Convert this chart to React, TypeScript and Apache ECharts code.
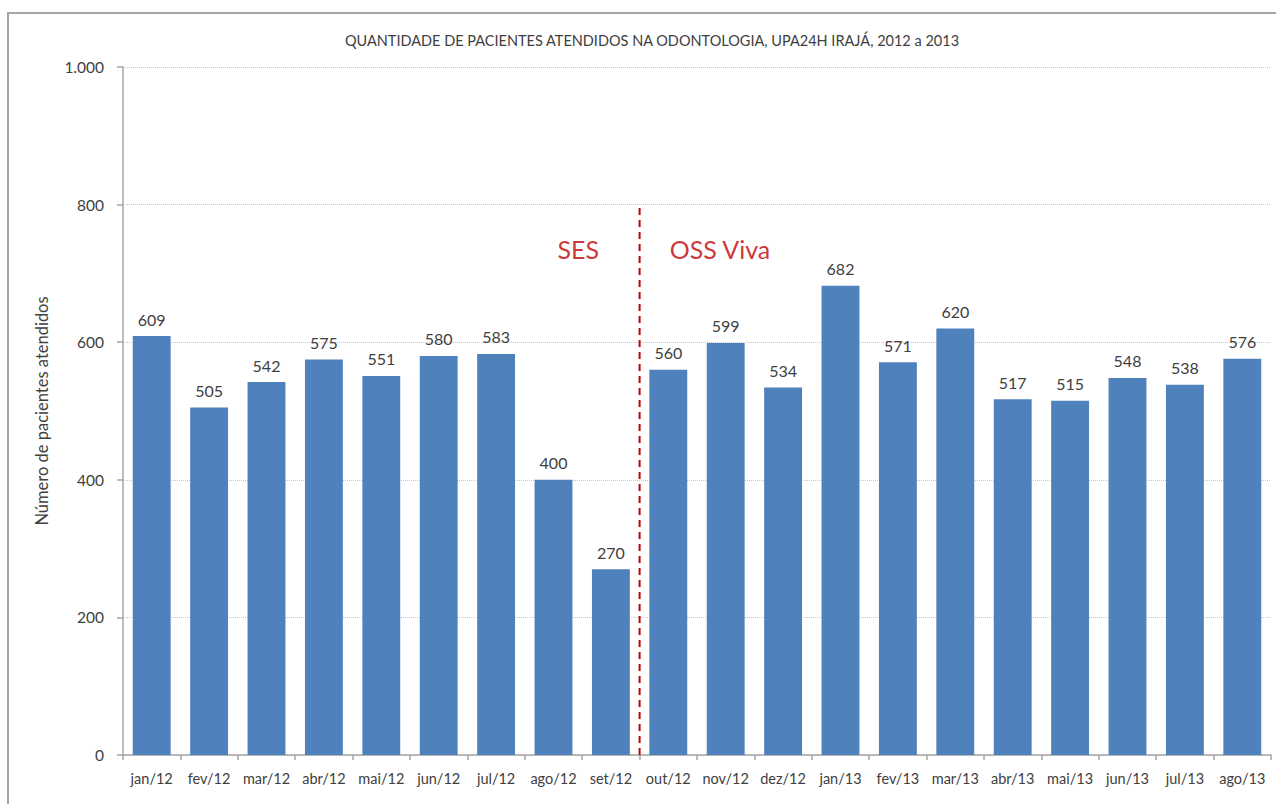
import React, { useEffect, useRef } from "react";
import * as echarts from "echarts";

const categories = [
  "jan/12", "fev/12", "mar/12", "abr/12", "mai/12", "jun/12", "jul/12", "ago/12", "set/12",
  "out/12", "nov/12", "dez/12", "jan/13", "fev/13", "mar/13", "abr/13", "mai/13", "jun/13", "jul/13", "ago/13",
];
const values = [609, 505, 542, 575, 551, 580, 583, 400, 270, 560, 599, 534, 682, 571, 620, 517, 515, 548, 538, 576];
const dividerLine = [[9, 0], [9, 800]];
const annotations = [
  { name: "SES", value: [7.93, 735] },
  { name: "OSS Viva", value: [10.4, 735] },
];
const title = "QUANTIDADE DE PACIENTES ATENDIDOS NA ODONTOLOGIA, UPA24H IRAJÁ, 2012 a 2013";
const yName = "Número de pacientes atendidos";

const FONT = "Lato, 'Open Sans', sans-serif";

export default function App() {
  const ref = useRef<HTMLDivElement>(null);
  useEffect(() => {
    if (!ref.current) return;
    const chart = echarts.init(ref.current, null, { renderer: "svg" });
    chart.setOption({
      animation: false,
      textStyle: { fontFamily: FONT },
      title: {
        text: title,
        left: 647,
        textAlign: "center",
        top: 28,
        textStyle: { fontSize: 14.5, fontWeight: "normal", color: "#404040", fontFamily: FONT },
      },
      graphic: [
        {
          type: "rect",
          shape: { x: 8, y: 13, width: 1400, height: 900 },
          style: { fill: "none", stroke: "#a6a6a6", lineWidth: 2 },
          silent: true,
        },
      ],
      grid: { left: 123, right: 5, top: 67, bottom: 49 },
      xAxis: [
        {
          type: "category",
          data: categories,
          axisLine: { lineStyle: { color: "#a6a6a6", width: 1.5 } },
          axisTick: { show: true, length: 5, lineStyle: { color: "#a6a6a6", width: 1.5 } },
          axisLabel: { color: "#404040", fontSize: 14.5, margin: 16, interval: 0, fontFamily: FONT },
        },
        {
          type: "value",
          min: 0,
          max: 20,
          show: false,
        },
      ],
      yAxis: {
        type: "value",
        min: 0,
        max: 1000,
        interval: 200,
        name: yName,
        nameLocation: "middle",
        nameGap: 73,
        nameTextStyle: { fontSize: 16.5, color: "#404040", fontFamily: FONT },
        axisLine: { show: true, lineStyle: { color: "#a6a6a6", width: 1.5 } },
        axisTick: { show: true, length: 6, lineStyle: { color: "#a6a6a6", width: 1.5 } },
        axisLabel: {
          color: "#404040",
          fontSize: 15.5,
          margin: 19,
          fontFamily: FONT,
          formatter: (v: number) => (v >= 1000 ? v.toLocaleString("de-DE") : String(v)),
        },
        splitLine: { show: true, lineStyle: { color: "#c8c8c8", type: "dotted", width: 1 } },
      },
      series: [
        {
          type: "bar",
          data: values,
          xAxisIndex: 0,
          barCategoryGap: "34%",
          itemStyle: { color: "#4f81bd" },
          label: {
            show: true,
            position: "top",
            distance: 9,
            color: "#404040",
            fontSize: 16,
            fontFamily: FONT,
          },
        },
        {
          type: "line",
          xAxisIndex: 1,
          data: dividerLine,
          symbol: "none",
          lineStyle: { color: "#c00000", width: 2, type: [7, 5] },
          silent: true,
        },
        {
          type: "scatter",
          xAxisIndex: 1,
          data: annotations,
          symbolSize: 0,
          silent: true,
          label: {
            show: true,
            position: "inside",
            formatter: (p: any) => p.name,
            color: "#c00000",
            fontSize: 25,
            fontFamily: FONT,
          },
        },
      ],
    });
    return () => chart.dispose();
  }, []);
  return (
    <div
      ref={ref}
      style={{ position: "fixed", left: 0, top: 0, width: 1276, height: 804, background: "#fff" }}
    />
  );
}
